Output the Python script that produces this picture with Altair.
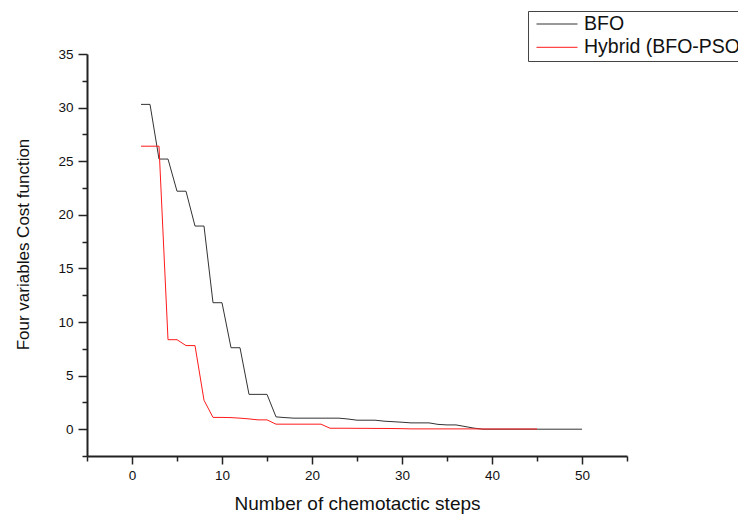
import altair as alt
import pandas as pd

# Chemotactic steps and cost values
bfo_steps = list(range(1, 51))
bfo_cost = [30.3, 30.3, 25.2, 25.2, 22.2, 22.2, 18.95, 18.95, 11.8, 11.8,
            7.6, 7.6, 3.25, 3.25, 3.25, 1.15, 1.08, 1.03, 1.03, 1.03,
            1.03, 1.03, 1.03, 0.95, 0.84, 0.84, 0.84, 0.75, 0.7, 0.65,
            0.59, 0.59, 0.59, 0.45, 0.4, 0.4, 0.25, 0.1, 0.0, 0.0,
            0.0, 0.0, 0.0, 0.0, 0.0, 0.0, 0.0, 0.0, 0.0, 0.0]

hyb_steps = list(range(1, 46))
hyb_cost = [26.4, 26.4, 26.4, 8.35, 8.35, 7.8, 7.8, 2.7, 1.1, 1.1,
            1.08, 1.03, 0.96, 0.87, 0.87, 0.47, 0.47, 0.47, 0.47, 0.47,
            0.47, 0.09, 0.09, 0.09, 0.08, 0.08, 0.07, 0.07, 0.06, 0.05,
            0.03, 0.03, 0.03, 0.03, 0.03, 0.03, 0.03, 0.03, 0.02, 0.02,
            0.02, 0.02, 0.02, 0.02, 0.02]

series_names = ["BFO", "Hybrid (BFO-PSO)"]
series_colors = ["#333333", "#ff1a1a"]

x_major = [0, 10, 20, 30, 40, 50]
x_minor = [-5, 5, 15, 25, 35, 45, 55]
y_major = [0, 5, 10, 15, 20, 25, 30, 35]
y_minor = [-2.5, 2.5, 7.5, 12.5, 17.5, 22.5, 27.5, 32.5]

df = pd.concat([
    pd.DataFrame({"step": bfo_steps, "cost": bfo_cost, "series": series_names[0]}),
    pd.DataFrame({"step": hyb_steps, "cost": hyb_cost, "series": series_names[1]}),
])

FONT = "Liberation Sans"
xscale = alt.Scale(domain=[-5, 55], nice=False, zero=False)
yscale = alt.Scale(domain=[-2.5, 35], nice=False, zero=False)

lines = alt.Chart(df).mark_line(strokeWidth=1, interpolate="linear").encode(
    x=alt.X("step:Q", scale=xscale,
            axis=alt.Axis(values=x_major, tickSize=8, tickWidth=1.5, tickColor="#222",
                          domainColor="#222", domainWidth=2, grid=False,
                          labelFontSize=13.5, labelFont=FONT, labelColor="#111",
                          labelPadding=4, orient="bottom",
                          title="Number of chemotactic steps", titleFont=FONT,
                          titleFontSize=19, titleFontWeight="normal", titleColor="#111",
                          titlePadding=13)),
    y=alt.Y("cost:Q", scale=yscale,
            axis=alt.Axis(values=y_major, tickSize=9, tickWidth=1.5, tickColor="#222",
                          domainColor="#222", domainWidth=2, grid=False,
                          labelFontSize=13.5, labelFont=FONT, labelColor="#111",
                          labelPadding=5, orient="left",
                          title="Four variables Cost function", titleFont=FONT,
                          titleFontSize=17, titleFontWeight="normal", titleColor="#111",
                          titleX=-64, titleY=190, titleAlign="center",
                          titleBaseline="middle", titleAngle=270)),
    color=alt.Color("series:N",
                    scale=alt.Scale(domain=series_names, range=series_colors),
                    legend=alt.Legend(title=None, orient="none", legendX=441, legendY=-43,
                                      symbolType="stroke", symbolSize=1681,
                                      symbolStrokeWidth=1, clipHeight=20, rowPadding=3.3,
                                      padding=3, labelFontSize=19.5, labelFont=FONT,
                                      labelColor="#111", labelOffset=6, labelLimit=400,
                                      strokeColor="#444", symbolOffset=5)),
)

minor = alt.Chart(df).mark_line(opacity=0).encode(
    x=alt.X("step:Q", scale=xscale,
            axis=alt.Axis(values=x_minor, tickSize=5, tickWidth=1.5, tickColor="#222",
                          domain=False, labels=False, grid=False, title=None,
                          orient="bottom")),
    y=alt.Y("cost:Q", scale=yscale,
            axis=alt.Axis(values=y_minor, tickSize=5, tickWidth=1.5, tickColor="#222",
                          domain=False, labels=False, grid=False, title=None,
                          orient="left")),
    detail="series:N",
)

chart = alt.layer(minor, lines).resolve_axis(x="independent", y="independent").properties(
    width=540, height=402,
    autosize=alt.AutoSizeParams(type="none"),
    padding={"left": 87, "top": 54, "right": 111, "bottom": 60},
    background="white",
).configure_view(stroke=None)

chart.save("out.html", embed_options={"renderer": "svg", "actions": False})
